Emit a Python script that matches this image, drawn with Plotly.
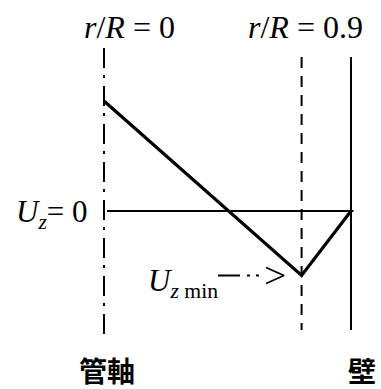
import plotly.graph_objects as go

# ---- data (schematic units) ----
r_profile = [0.0, 0.8, 1.0]          # r/R positions of the velocity profile corners
uz_profile = [1.0, -0.585, 0.0]      # Uz values (normalised)
r_axis = 0.0                          # pipe axis
r_dashed = 0.8                        # r/R = 0.9 marker position (schematic)
r_wall = 1.0                          # wall
uz_zero = 0.0
labels_top = ["<i>r</i>/<i>R</i> = 0", "<i>r</i>/<i>R</i> = 0.9"]
labels_bottom = ["管軸", "壁"]

W, H = 381, 389
X0, XS = 104.0, 247.0
Y0, YS = 211.0, 110.0
def dx(px): return (px - X0) / XS
def dy(py): return (Y0 - py) / YS

fig = go.Figure()

fig.add_trace(go.Scatter(x=[r_axis, r_axis], y=[dy(48), dy(337)], mode="lines",
                         line=dict(color="black", width=2, dash="20px,7px,3px,8px"),
                         hoverinfo="skip"))
fig.add_trace(go.Scatter(x=[r_dashed, r_dashed], y=[dy(57), dy(330)], mode="lines",
                         line=dict(color="black", width=2, dash="11px,8px"),
                         hoverinfo="skip"))
fig.add_trace(go.Scatter(x=[r_wall, r_wall], y=[dy(57), dy(330)], mode="lines",
                         line=dict(color="black", width=2), hoverinfo="skip"))
fig.add_trace(go.Scatter(x=[r_axis + dx(107), r_wall + 0.01], y=[uz_zero, uz_zero], mode="lines",
                         line=dict(color="black", width=2), hoverinfo="skip"))
fig.add_trace(go.Scatter(x=r_profile, y=uz_profile, mode="lines",
                         line=dict(color="black", width=3.2), hoverinfo="skip"))
# arrow to Uz min: dash, dot, dot, open head
ya = dy(275.5)
fig.add_trace(go.Scatter(x=[dx(218), dx(260)], y=[ya, ya], mode="lines",
                         line=dict(color="black", width=2, dash="22px,7px,3px,6px,3px,20px"),
                         hoverinfo="skip"))
fig.add_trace(go.Scatter(x=[dx(266), dx(284), dx(266)], y=[dy(267.5), ya, dy(283.5)], mode="lines",
                         line=dict(color="black", width=1.8), hoverinfo="skip"))

serif = "Liberation Serif"
cjk = "Noto Sans CJK JP"
ann = []
ann.append(dict(x=dx(129), y=dy(27), text=labels_top[0], showarrow=False,
                font=dict(family=serif, size=32, color="black")))
ann.append(dict(x=dx(305.5), y=dy(27), text=labels_top[1], showarrow=False,
                font=dict(family=serif, size=32, color="black")))
ann.append(dict(x=dx(52), y=dy(214), text="<i>U<sub>z</sub></i>= 0", showarrow=False,
                font=dict(family=serif, size=31, color="black")))
ann.append(dict(x=dx(183), y=dy(283), text="<i>U<sub>z</sub></i><sub> min</sub>", showarrow=False,
                font=dict(family=serif, size=31, color="black")))
ann.append(dict(x=dx(107), y=dy(370), text="<b>%s</b>" % labels_bottom[0], showarrow=False,
                font=dict(family=cjk, size=28, color="black")))
ann.append(dict(x=dx(362), y=dy(370), text="<b>%s</b>" % labels_bottom[1], showarrow=False,
                font=dict(family=cjk, size=28, color="black")))

fig.update_layout(
    width=W, height=H, margin=dict(l=0, r=0, t=0, b=0),
    paper_bgcolor="white", plot_bgcolor="white", showlegend=False,
    xaxis=dict(range=[dx(0), dx(W)], visible=False, fixedrange=True),
    yaxis=dict(range=[dy(H), dy(0)], visible=False, fixedrange=True),
    annotations=ann,
)
fig.write_html("out.html", config={"displayModeBar": False},
               post_script="document.body.style.margin='0';document.body.style.overflow='hidden';")
